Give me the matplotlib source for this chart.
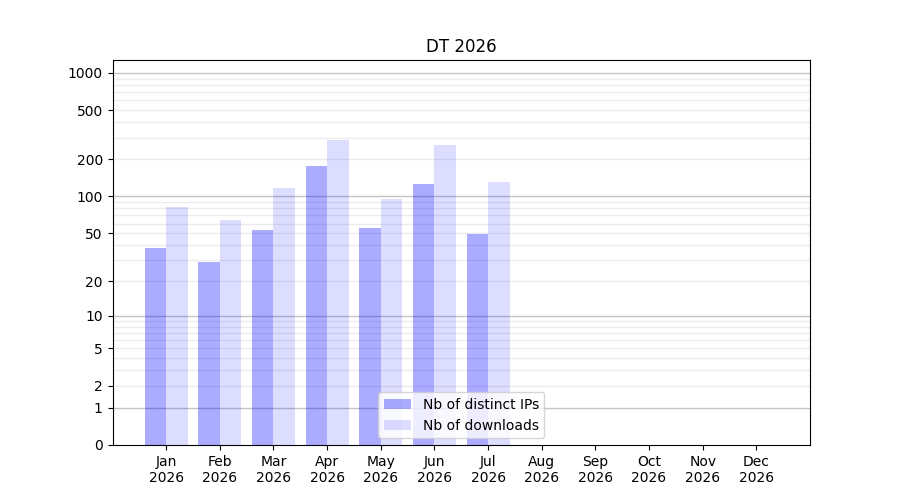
import numpy as np
import matplotlib
matplotlib.use("Agg")
import matplotlib.pyplot as plt
from matplotlib.ticker import FixedLocator, NullFormatter

months = ["Jan", "Feb", "Mar", "Apr", "May", "Jun", "Jul", "Aug", "Sep", "Oct", "Nov", "Dec"]
year = "2026"
tick_labels = [f"{m}\n{year}" for m in months]
distinct_ips = [38, 29, 53, 178, 55, 126, 49]
downloads = [82, 64, 117, 287, 95, 261, 131]
ytick_values = [0, 1, 2, 5, 10, 20, 50, 100, 200, 500, 1000]
major_grid = [1, 10, 100, 1000]
minor_grid = [m * 10 ** k for k in range(3) for m in range(2, 10)]

fig, ax = plt.subplots(figsize=(9, 5), dpi=100)
ax.set_yscale("function", functions=(lambda v: np.log10(1 + np.maximum(v, 0)), lambda v: 10 ** v - 1))

x1 = np.arange(len(distinct_ips))
x2 = np.arange(len(downloads))
w = 0.4
ax.bar(x1 - w / 2, distinct_ips, width=w, color="blue", alpha=0.33, label="Nb of distinct IPs", zorder=2)
ax.bar(x2 + w / 2, downloads, width=w, color="blue", alpha=0.133, label="Nb of downloads", zorder=2)

ax.set_xticks(np.arange(len(months)))
ax.set_xticklabels(tick_labels)
ax.set_xlim(-1, len(months))
ax.set_ylim(0, 1270)

ax.yaxis.set_major_locator(FixedLocator(ytick_values))
ax.set_yticklabels([str(v) for v in ytick_values])
ax.yaxis.set_minor_locator(FixedLocator(minor_grid))
ax.yaxis.set_minor_formatter(NullFormatter())
ax.tick_params(axis="y", which="minor", length=0)

for v in major_grid:
    ax.axhline(v, color="#c4c4c4", linewidth=1, zorder=1)
for v in minor_grid:
    ax.axhline(v, color="#ececec", linewidth=1, zorder=1)

ax.set_title("DT 2026")
ax.legend(loc="lower center")
fig.savefig("out.png", dpi=100)
